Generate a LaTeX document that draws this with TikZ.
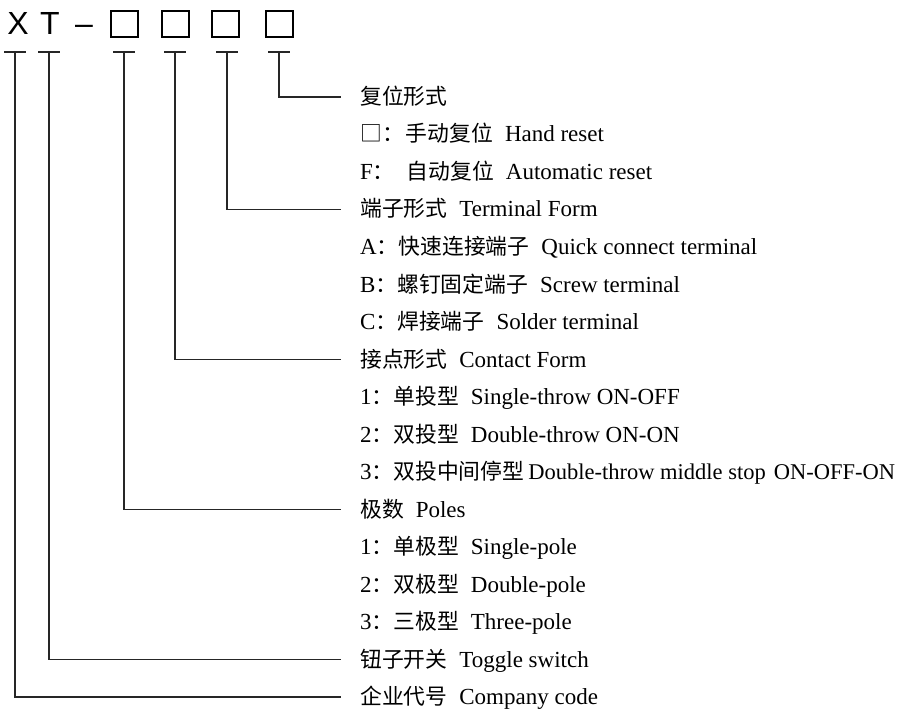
\documentclass[tikz,border=0pt]{standalone}
\usepackage{fontspec}
\setmainfont{Liberation Serif}
\newfontfamily\cjk{Noto Sans CJK SC}
\newfontfamily\hdr{Liberation Sans}
\newcommand\zh[1]{{\cjk\fontsize{21.8}{26}\selectfont #1}}
\newcommand\zgap{\hspace{12pt}}
\begin{document}
\begin{tikzpicture}[x=1pt,y=-1pt,
  lead/.style={line width=1.1pt, draw=black!85},
  lbl/.style={anchor=base west, inner sep=0pt, font=\fontsize{23}{27}\selectfont},
  codebox/.style={draw, line width=2pt, minimum width=27pt, minimum height=26pt, inner sep=0pt},
  hd/.style={anchor=base, inner sep=0pt, font=\hdr\fontsize{32}{36}\selectfont}]
\useasboundingbox (0,0) rectangle (912,711);
% header
\node[hd] (X) at (18,35) {X};
\node[hd] (T) at (50,35) {T};
\node[hd] (dash) at (84,35) {–};
\node[codebox] (b1) at (124.5,24.5) {};
\node[codebox] (b2) at (175.5,24.5) {};
\node[codebox] (b3) at (225.5,24.5) {};
\node[codebox] (b4) at (279.5,24.5) {};
% T-bars
\foreach \n/\x in {1/15,2/49,3/124,4/175,5/227,6/279}{
  \coordinate (p\n) at (\x,52);
  \draw[lead] (\x-11,52) -- (\x+11,52);
}
% labels
\node[lbl] (h1) at (360,104.5) {\zh{复位形式}};
\node[lbl] (r2) at (360,142) {\zh{□：}\hspace{2pt}\zh{手动复位}\zgap Hand reset};
\node[lbl] (r3) at (360,179.5) {F\zh{：}\hspace{12pt}\zh{自动复位}\zgap Automatic reset};
\node[lbl] (h4) at (360,217) {\zh{端子形式}\zgap Terminal Form};
\node[lbl] (r5) at (360,254.5) {A\zh{：快速连接端子}\zgap Quick connect terminal};
\node[lbl] (r6) at (360,292) {B\zh{：螺钉固定端子}\zgap Screw terminal};
\node[lbl] (r7) at (360,329.5) {C\zh{：焊接端子}\zgap Solder terminal};
\node[lbl] (h8) at (360,367) {\zh{接点形式}\zgap Contact Form};
\node[lbl] (r9) at (360,404.5) {1\zh{：单投型}\zgap Single-throw ON-OFF};
\node[lbl] (r10) at (360,442) {2\zh{：双投型}\zgap Double-throw ON-ON};
\node[lbl] (r11) at (360,479.5) {3\zh{：双投中间停型}\hspace{4pt}{\fontsize{22.5}{27}\selectfont Double-throw middle stop\hspace{8pt}ON-OFF-ON}};
\node[lbl] (h12) at (360,517) {\zh{极数}\zgap Poles};
\node[lbl] (r13) at (360,554.5) {1\zh{：单极型}\zgap Single-pole};
\node[lbl] (r14) at (360,592) {2\zh{：双极型}\zgap Double-pole};
\node[lbl] (r15) at (360,629.5) {3\zh{：三极型}\zgap Three-pole};
\node[lbl] (h16) at (360,667) {\zh{钮子开关}\zgap Toggle switch};
\node[lbl] (h17) at (360,704.5) {\zh{企业代号}\zgap Company code};
% line ends
\coordinate (e1) at (341,97);
\coordinate (e4) at (341,209.5);
\coordinate (e8) at (341,359.5);
\coordinate (e12) at (341,509.5);
\coordinate (e16) at (341,659.5);
\coordinate (e17) at (341,697);
\draw[lead] (p6) |- (e1);
\draw[lead] (p5) |- (e4);
\draw[lead] (p4) |- (e8);
\draw[lead] (p3) |- (e12);
\draw[lead] (p2) |- (e16);
\draw[lead] (p1) |- (e17);
\end{tikzpicture}
\end{document}
